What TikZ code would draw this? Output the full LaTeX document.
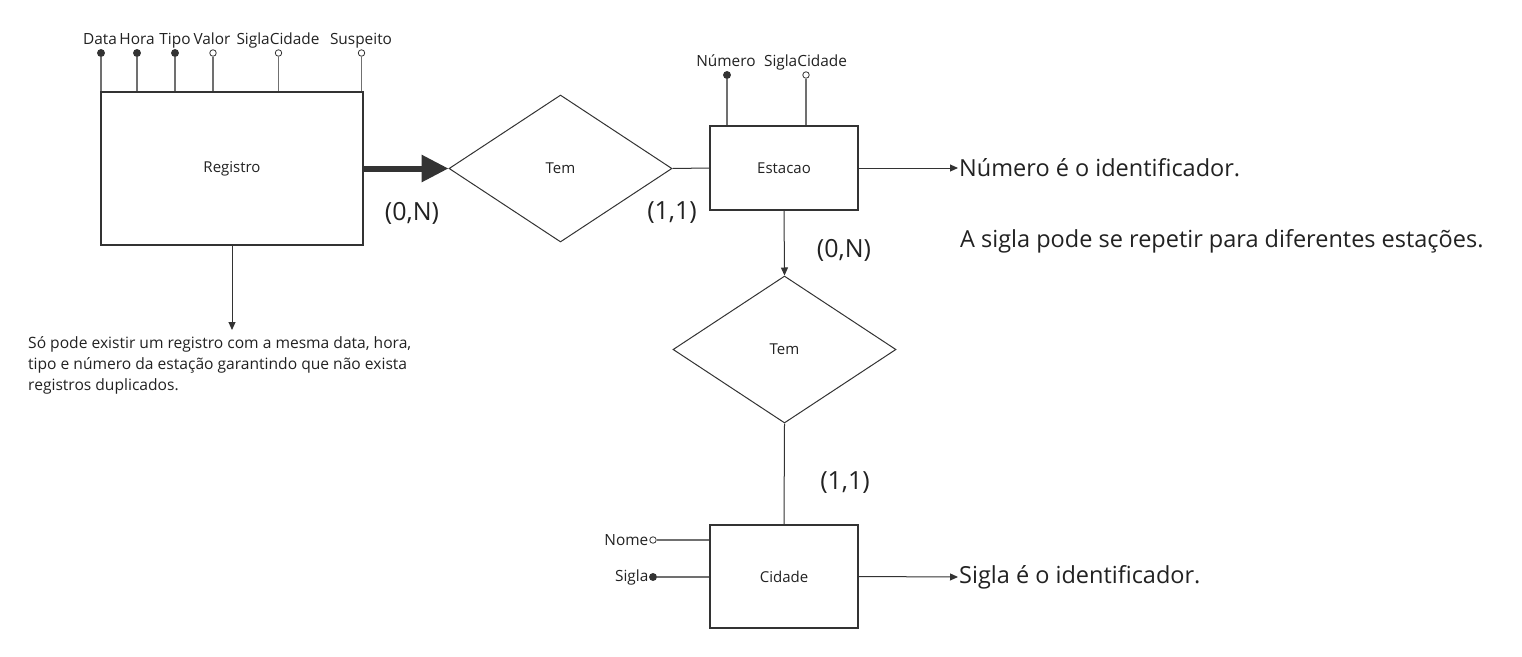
\documentclass[tikz,border=0pt]{standalone}
\usepackage{fontspec}
\setmainfont{Open Sans}
\usetikzlibrary{arrows.meta,shapes.geometric}
\definecolor{ink}{HTML}{222222}
\definecolor{edge}{HTML}{333333}
\definecolor{attr}{HTML}{707070}
\begin{document}
\begin{tikzpicture}[x=1pt,y=-1pt,
  every node/.style={text=ink},
  entity/.style={draw=edge,line width=1.1pt,rectangle,inner sep=0pt,font=\fontsize{15}{17}\selectfont},
  rel/.style={draw=edge,line width=1pt,diamond,aspect=1.5,inner sep=0pt,minimum width=223pt,minimum height=147pt,font=\fontsize{15}{17}\selectfont},
  keyattr/.style={circle,fill=edge,draw=edge,line width=0.8pt,inner sep=0pt,minimum size=7pt},
  optattr/.style={circle,fill=white,draw=edge,line width=0.8pt,inner sep=0pt,minimum size=6.5pt},
  attrlabel/.style={inner sep=0pt,font=\fontsize{15.4}{17}\selectfont},
  attrline/.style={draw=attr,line width=1.3pt},
  relline/.style={draw=edge,line width=1pt},
  arr/.style={draw=edge,line width=1pt,-{Triangle[length=8pt,width=7pt]}},
  thickarr/.style={draw=edge,line width=6pt,-{Triangle[length=27pt,width=26pt]}},
  card/.style={inner sep=0pt,font=\fontsize{25}{28}\selectfont},
  note/.style={inner sep=1pt,font=\fontsize{23.5}{27}\selectfont},
  para/.style={inner sep=0pt,align=left,font=\fontsize{15.6}{21}\selectfont}
]
\useasboundingbox (0,0) rectangle (1522,656);
\fill[white] (0,0) rectangle (1522,656);

% entities
\node[entity,minimum width=262pt,minimum height=153pt] (reg) at (232,168.5) {Registro};
\node[entity,minimum width=148pt,minimum height=84pt] (est) at (784,168) {Estacao};
\node[entity,minimum width=148pt,minimum height=103pt] (cid) at (784,576.5) {Cidade};

% relationships
\node[rel] (d1) at (560.5,168.5) {Tem};
\node[rel] (d2) at (784.5,349.5) {Tem};

% Registro attributes
\node[keyattr] (aData) at (101,53) {};
\node[keyattr] (aHora) at (137,53) {};
\node[keyattr] (aTipo) at (175,53) {};
\node[optattr] (aValor) at (213,53) {};
\node[optattr] (aSigla) at (278.5,53) {};
\node[optattr] (aSusp) at (361.5,53) {};
\foreach \a in {aData,aHora,aTipo,aValor,aSigla,aSusp}
  \draw[attrline] (\a) -- (\a |- reg.north);
\node[attrlabel,anchor=base] (lData) at (100,44.5) {Data};
\node[attrlabel,anchor=base] (lHora) at (137,44.5) {Hora};
\node[attrlabel,anchor=base] (lTipo) at (175,44.5) {Tipo};
\node[attrlabel,anchor=base] (lValor) at (212,44.5) {Valor};
\node[attrlabel,anchor=base] (lSigla) at (278,44.5) {SiglaCidade};
\node[attrlabel,anchor=base] (lSusp) at (361,44.5) {Suspeito};

% Estacao attributes
\node[keyattr] (eNum) at (727,75) {};
\node[optattr] (eSigla) at (806,75) {};
\foreach \a in {eNum,eSigla}
  \draw[attrline] (\a) -- (\a |- est.north);
\node[attrlabel,anchor=base] (leNum) at (726,66.5) {Número};
\node[attrlabel,anchor=base] (leSigla) at (805.5,66.5) {SiglaCidade};

% Cidade attributes
\node[optattr] (cNome) at (653,540) {};
\node[keyattr] (cSigla) at (653,577) {};
\foreach \a in {cNome,cSigla}
  \draw[attrline] (\a) -- (\a -| cid.west);
\node[attrlabel,anchor=east] (lcNome) at (648.5,540.5) {Nome};
\node[attrlabel,anchor=east] (lcSigla) at (648.5,577) {Sigla};

% connectors
\draw[thickarr] (reg.east |- d1.west) -- (d1.west);
\draw[relline] (d1.east) -- (est.west);
\draw[arr] (est.south) -- (d2.north);
\draw[relline] (d2.south) -- (cid.north);

% cardinalities
\node[card] (c1) at (412,213) {(0,N)};
\node[card] (c2) at (672,213) {(1,1)};
\node[card] (c3) at (844,250) {(0,N)};
\node[card] (c4) at (845,483) {(1,1)};

% notes
\node[note,anchor=west] (n1) at (958,168) {Número é o identificador.};
\node[note,anchor=west] (n2) at (959,241) {A sigla pode se repetir para diferentes estações.};
\node[note,anchor=west] (n3) at (958,577) {Sigla é o identificador.};
\draw[arr] (est.east) -- (n1.west);
\draw[arr] (cid.east) -- (n3.west);

% paragraph
\coordinate (pTip) at (232,330);
\draw[arr] (reg.south) -- (pTip);
\node[para,anchor=north west] (para) at (28,336) {Só pode existir um registro com a mesma data, hora,\\tipo e número da estação garantindo que não exista\\registros duplicados.};
\end{tikzpicture}
\end{document}
